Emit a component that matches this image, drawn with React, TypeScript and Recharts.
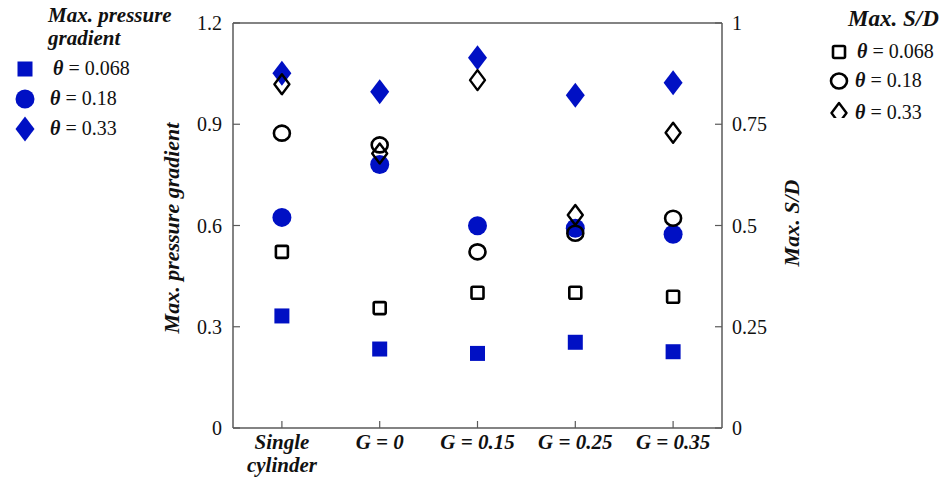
import React from 'react';
import { ComposedChart, Scatter, XAxis, YAxis } from 'recharts';

const categories = ['Single cylinder', 'G = 0', 'G = 0.15', 'G = 0.25', 'G = 0.35'];
const categoryLines = [['Single', 'cylinder'], ['G = 0'], ['G = 0.15'], ['G = 0.25'], ['G = 0.35']];

// Max. pressure gradient (left axis, filled blue)
const gradient068 = [0.332, 0.234, 0.221, 0.254, 0.226];
const gradient018 = [0.624, 0.781, 0.599, 0.592, 0.574];
const gradient033 = [1.051, 0.996, 1.097, 0.986, 1.023];

// Max. S/D (right axis, open black)
const sd068 = [0.435, 0.296, 0.334, 0.334, 0.324];
const sd018 = [0.728, 0.699, 0.435, 0.481, 0.518];
const sd033 = [0.849, 0.678, 0.859, 0.526, 0.729];

const leftTicks = [0, 0.3, 0.6, 0.9, 1.2];
const rightTicks = [0, 0.25, 0.5, 0.75, 1];
const rightTickLabels = ['0', '0.25', '0.5', '0.75', '1'];

const rows = categories.map((cat, i) => ({
  cat,
  g068: gradient068[i],
  g018: gradient018[i],
  g033: gradient033[i],
  s068: sd068[i],
  s018: sd018[i],
  s033: sd033[i],
}));

const BLUE = '#0010c4';
const AXIS = '#5a5a5a';
const FONT = "'Liberation Serif', serif";

const FilledSquare = (p: any) => <rect x={p.cx - 7.5} y={p.cy - 7.5} width={15} height={15} fill={BLUE} />;
const FilledCircle = (p: any) => <circle cx={p.cx} cy={p.cy} r={9.5} fill={BLUE} />;
const FilledDiamond = (p: any) => (
  <polygon
    points={`${p.cx},${p.cy - 12.5} ${p.cx + 9.5},${p.cy} ${p.cx},${p.cy + 12.5} ${p.cx - 9.5},${p.cy}`}
    fill={BLUE}
  />
);
const OpenSquare = (p: any) => (
  <rect x={p.cx - 6} y={p.cy - 6} width={12} height={12} rx={1.5} fill="none" stroke="#000" strokeWidth={2.6} />
);
const OpenCircle = (p: any) => (
  <ellipse cx={p.cx} cy={p.cy} rx={8} ry={7.5} fill="none" stroke="#000" strokeWidth={2.6} />
);
const OpenDiamond = (p: any) => (
  <polygon
    points={`${p.cx},${p.cy - 10} ${p.cx + 7.5},${p.cy} ${p.cx},${p.cy + 10} ${p.cx - 7.5},${p.cy}`}
    fill="none"
    stroke="#000"
    strokeWidth={2.4}
    strokeLinejoin="round"
  />
);

const CatTick = (p: any) => {
  const idx = categories.indexOf(p.payload.value);
  const lines = idx >= 0 ? categoryLines[idx] : [String(p.payload.value)];
  return (
    <text
      x={p.x}
      y={p.y}
      textAnchor="middle"
      fontFamily={FONT}
      style={{ fontFamily: FONT, fontWeight: 'bold', fontStyle: 'italic', fontSize: 21 }}
      fill="#111"
    >
      {lines.map((l: string, i: number) => (
        <tspan key={i} x={p.x} dy={i === 0 ? 0 : 23}>
          {l}
        </tspan>
      ))}
    </text>
  );
};

const tickStyle = { fontFamily: FONT, fontSize: 20, fill: '#111', style: { fontFamily: FONT } };

const LegendText = ({ value }: { value: string }) => (
  <span style={{ fontFamily: FONT, fontSize: 20, color: '#111', whiteSpace: 'nowrap' }}>
    <b>
      <i>θ</i>
    </b>{' '}
    = {value}
  </span>
);

export default function App() {
  return (
    <div style={{ position: 'absolute', left: 0, top: 0, width: 942, height: 483, background: '#fff', fontFamily: FONT }}>
      <ComposedChart
        width={942}
        height={483}
        data={rows}
        margin={{ top: 22, right: 160, bottom: 0, left: 173 }}
        style={{ fontFamily: FONT }}
      >
        <XAxis
          dataKey="cat"
          type="category"
          scale="band"
          height={55}
          tick={<CatTick />}
          tickSize={-7}
          tickMargin={28}
          axisLine={{ stroke: AXIS, strokeWidth: 1.5 }}
          tickLine={{ stroke: AXIS, strokeWidth: 1.2 }}
          interval={0}
        />
        <XAxis
          xAxisId="top"
          dataKey="cat"
          type="category"
          scale="band"
          orientation="top"
          height={1}
          tick={false}
          tickSize={-7}
          axisLine={{ stroke: AXIS, strokeWidth: 1.5 }}
          tickLine={{ stroke: AXIS, strokeWidth: 1.2 }}
          interval={0}
        />
        <YAxis
          yAxisId="left"
          width={60}
          domain={[0, 1.2]}
          ticks={leftTicks}
          tickFormatter={(v: number) => String(v)}
          tickSize={-7}
          tickMargin={18}
          tick={tickStyle}
          axisLine={{ stroke: AXIS, strokeWidth: 1.5 }}
          tickLine={{ stroke: AXIS, strokeWidth: 1.2 }}
          allowDataOverflow
        />
        <YAxis
          yAxisId="right"
          orientation="right"
          width={60}
          domain={[0, 1]}
          ticks={rightTicks}
          tickFormatter={(v: number) => rightTickLabels[rightTicks.indexOf(v)] ?? String(v)}
          tickSize={-7}
          tickMargin={17}
          tick={tickStyle}
          axisLine={{ stroke: AXIS, strokeWidth: 1.5 }}
          tickLine={{ stroke: AXIS, strokeWidth: 1.2 }}
          allowDataOverflow
        />
        <Scatter yAxisId="left" dataKey="g068" shape={FilledSquare} isAnimationActive={false} />
        <Scatter yAxisId="left" dataKey="g018" shape={FilledCircle} isAnimationActive={false} />
        <Scatter yAxisId="left" dataKey="g033" shape={FilledDiamond} isAnimationActive={false} />
        <Scatter yAxisId="right" dataKey="s068" shape={OpenSquare} isAnimationActive={false} />
        <Scatter yAxisId="right" dataKey="s018" shape={OpenCircle} isAnimationActive={false} />
        <Scatter yAxisId="right" dataKey="s033" shape={OpenDiamond} isAnimationActive={false} />
      </ComposedChart>

      <svg
        width={942}
        height={483}
        style={{ position: 'absolute', left: 0, top: 0, pointerEvents: 'none' }}
      >
        <text
          transform="translate(179,228) rotate(-90)"
          textAnchor="middle"
          style={{ fontFamily: FONT, fontWeight: 'bold', fontStyle: 'italic', fontSize: 22 }}
          fill="#111"
        >
          Max. pressure gradient
        </text>
        <text
          transform="translate(799,223) rotate(-90)"
          textAnchor="middle"
          style={{ fontFamily: FONT, fontWeight: 'bold', fontStyle: 'italic', fontSize: 22 }}
          fill="#111"
        >
          Max. S/D
        </text>
      </svg>

      {/* Left legend */}
      <div style={{ position: 'absolute', left: 48, top: 4, fontFamily: FONT, fontWeight: 'bold', fontStyle: 'italic', fontSize: 21, lineHeight: '23px', color: '#111', whiteSpace: 'nowrap' }}>
        Max. pressure
        <br />
        gradient
      </div>
      <svg width={40} height={90} style={{ position: 'absolute', left: 5, top: 54 }}>
        <rect x={12.5} y={7.5} width={15} height={15} fill={BLUE} />
        <circle cx={20} cy={45} r={9.5} fill={BLUE} />
        <polygon points="20,62.5 29.5,75 20,87.5 10.5,75" fill={BLUE} />
      </svg>
      <div style={{ position: 'absolute', left: 53, top: 57 }}>
        <LegendText value="0.068" />
      </div>
      <div style={{ position: 'absolute', left: 50, top: 87 }}>
        <LegendText value="0.18" />
      </div>
      <div style={{ position: 'absolute', left: 50, top: 117 }}>
        <LegendText value="0.33" />
      </div>

      {/* Right legend */}
      <div style={{ position: 'absolute', left: 848, top: 7, fontFamily: FONT, fontWeight: 'bold', fontStyle: 'italic', fontSize: 23, lineHeight: '24px', color: '#111', whiteSpace: 'nowrap' }}>
        Max. S/D
      </div>
      <svg width={30} height={80} style={{ position: 'absolute', left: 824, top: 38 }}>
        <rect x={9} y={8} width={12} height={12} rx={1.5} fill="none" stroke="#000" strokeWidth={2.6} />
        <ellipse cx={15} cy={43} rx={8} ry={7.5} fill="none" stroke="#000" strokeWidth={2.6} />
        <polygon points="15,65 22.5,75 15,85 7.5,75" fill="none" stroke="#000" strokeWidth={2.4} strokeLinejoin="round" />
      </svg>
      <div style={{ position: 'absolute', left: 857, top: 40 }}>
        <LegendText value="0.068" />
      </div>
      <div style={{ position: 'absolute', left: 855, top: 69 }}>
        <LegendText value="0.18" />
      </div>
      <div style={{ position: 'absolute', left: 855, top: 101 }}>
        <LegendText value="0.33" />
      </div>
    </div>
  );
}
